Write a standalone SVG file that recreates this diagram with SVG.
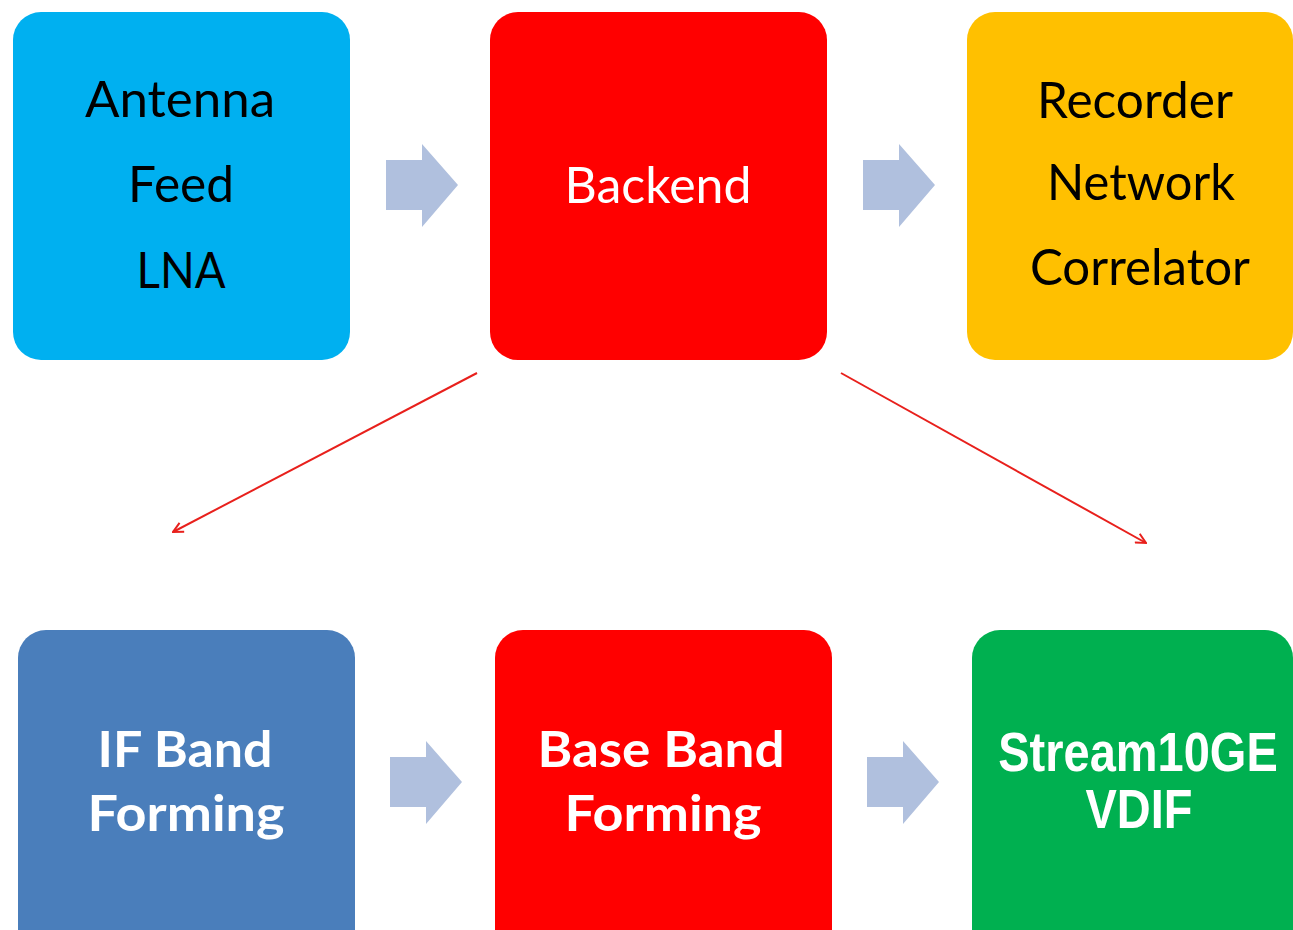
<svg xmlns="http://www.w3.org/2000/svg" width="1293" height="930" viewBox="0 0 1293 930">
<style>
.t{font-family:Lato,"Open Sans","Liberation Sans",sans-serif;font-size:50px;fill:#000}
.w{fill:#fff}
.b{font-family:Lato,"Open Sans","Liberation Sans",sans-serif;font-size:50px;font-weight:bold;fill:#fff}
.a{font-family:"Liberation Sans",Arial,sans-serif;font-size:47px;font-weight:bold;fill:#fff}
.blk{fill:#B0C0DE}
.ln{stroke:#E8201C;stroke-width:2;fill:none}
</style>
<defs>
<marker id="oh" viewBox="0 0 12 12" refX="11" refY="6" markerWidth="12" markerHeight="12" markerUnits="userSpaceOnUse" orient="auto">
<path d="M1,1 L11,6 L1,11" fill="none" stroke="#E8201C" stroke-width="2"/>
</marker>
<path id="ba" d="M0,16 H36 V0 L72,41 L36,83 V66 H0 Z"/>
</defs>
<rect width="1293" height="930" fill="#fff"/>
<g id="n-antenna">
<rect x="13" y="12" width="337" height="348" rx="28" fill="#00B0F0"/>
<text class="t" x="180" y="117" text-anchor="middle" textLength="190" lengthAdjust="spacingAndGlyphs">Antenna</text>
<text class="t" x="181" y="202" text-anchor="middle" textLength="106" lengthAdjust="spacingAndGlyphs">Feed</text>
<text class="t" x="181" y="288" text-anchor="middle" textLength="89" lengthAdjust="spacingAndGlyphs">LNA</text>
</g>
<g id="n-backend">
<rect x="490" y="12" width="337" height="348" rx="28" fill="#FF0000"/>
<text class="t w" x="658" y="203" text-anchor="middle" textLength="187" lengthAdjust="spacingAndGlyphs">Backend</text>
</g>
<g id="n-recorder">
<rect x="967" y="12" width="326" height="348" rx="28" fill="#FFC000"/>
<text class="t" x="1135" y="118" text-anchor="middle" textLength="196" lengthAdjust="spacingAndGlyphs">Recorder</text>
<text class="t" x="1141" y="200" text-anchor="middle" textLength="188" lengthAdjust="spacingAndGlyphs">Network</text>
<text class="t" x="1140" y="285" text-anchor="middle" textLength="220" lengthAdjust="spacingAndGlyphs">Correlator</text>
</g>
<g id="n-ifband">
<rect x="18" y="630" width="337" height="348" rx="28" fill="#4A7EBB"/>
<text class="b" x="185" y="767" text-anchor="middle" textLength="175" lengthAdjust="spacingAndGlyphs">IF Band</text>
<text class="b" x="186" y="831" text-anchor="middle" textLength="197" lengthAdjust="spacingAndGlyphs">Forming</text>
</g>
<g id="n-baseband">
<rect x="495" y="630" width="337" height="348" rx="28" fill="#FF0000"/>
<text class="b" x="661" y="767" text-anchor="middle" textLength="247" lengthAdjust="spacingAndGlyphs">Base Band</text>
<text class="b" x="663" y="831" text-anchor="middle" textLength="197" lengthAdjust="spacingAndGlyphs">Forming</text>
</g>
<g id="n-stream">
<rect x="972" y="630" width="321" height="348" rx="28" fill="#00B050"/>
<text class="a" transform="translate(1138,771) scale(1,1.2)" x="0" y="0" text-anchor="middle">Stream10GE</text>
<text class="a" transform="translate(1139,828) scale(1,1.2)" x="0" y="0" text-anchor="middle">VDIF</text>
</g>
<g id="connectors">
<use href="#ba" class="blk" x="386" y="144"/>
<use href="#ba" class="blk" x="863" y="144"/>
<use href="#ba" class="blk" x="390" y="741"/>
<use href="#ba" class="blk" x="867" y="741"/>
<line class="ln" x1="477" y1="373" x2="173" y2="532" marker-end="url(#oh)"/>
<line class="ln" x1="841" y1="373" x2="1146" y2="543" marker-end="url(#oh)"/>
</g>
</svg>
